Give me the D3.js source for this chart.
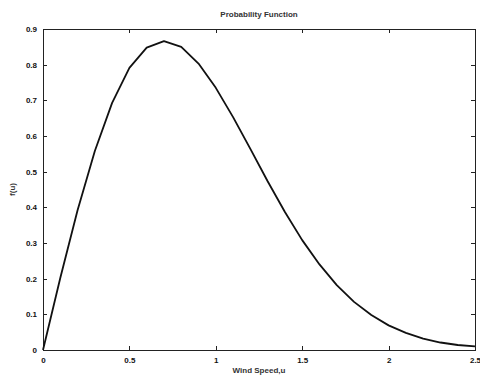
<html>
    <head>
        <title> Probability Function </title>
        <script src="https://d3js.org/d3.v7.min.js"></script>
        <style type="text/css">
            body { margin: 0; background: #fff; }
            .axis path,
            .axis line {
                fill: none;
                stroke: #222;
                shape-rendering: crispEdges;
            }
            .axis text {
                font-family: "Liberation Sans", Arial, sans-serif;
                font-size: 8px;
                font-weight: bold;
                fill: #111;
            }
            .lbl {
                font-family: "Liberation Sans", Arial, sans-serif;
                font-size: 8px;
                font-weight: bold;
                fill: #333;
            }
        </style>
    </head>
    <body>
        <script type="text/javascript">
            // wind speed samples and f(u)
            var speed = [0, 0.1, 0.2, 0.3, 0.4, 0.5, 0.6, 0.7, 0.8, 0.9, 1.0, 1.1, 1.2,
                         1.3, 1.4, 1.5, 1.6, 1.7, 1.8, 1.9, 2.0, 2.1, 2.2, 2.3, 2.4, 2.5];
            var prob = [0, 0.202, 0.392, 0.558, 0.693, 0.791, 0.848, 0.866, 0.850, 0.803,
                        0.735, 0.653, 0.564, 0.473, 0.387, 0.308, 0.240, 0.182, 0.135,
                        0.098, 0.069, 0.048, 0.032, 0.021, 0.014, 0.010];
            var xticks = [0, 0.5, 1, 1.5, 2, 2.5];
            var yticks = [0, 0.1, 0.2, 0.3, 0.4, 0.5, 0.6, 0.7, 0.8, 0.9];

            var w = 480, h = 378;
            // note: "top" is taken by window.top, so plot edges get a prefix
            var pLeft = 43, pRight = 475, pTop = 29, pBottom = 350;

            var data = speed.map(function (d, i) { return {u: d, f: prob[i]}; });

            var xscale = d3.scaleLinear()
                .domain([0, 2.5])
                .range([pLeft, pRight]);
            var yscale = d3.scaleLinear()
                .domain([0, 0.9])
                .range([pBottom, pTop]);

            var svg = d3.select('body')
                .append('svg')
                .attr('width', w)
                .attr('height', h);

            // frame
            svg.append('rect')
                .attr('x', pLeft)
                .attr('y', pTop)
                .attr('width', pRight - pLeft)
                .attr('height', pBottom - pTop)
                .attr('fill', 'none')
                .attr('stroke', '#222')
                .attr('shape-rendering', 'crispEdges');

            // ticks point inward like matlab
            var xAxis = d3.axisBottom(xscale)
                .tickValues(xticks)
                .tickSize(-4)
                .tickPadding(7)
                .tickFormat(function (d) { return d; });
            svg.append('g')
                .attr('class', 'axis')
                .attr('transform', 'translate(0,' + pBottom + ')')
                .call(xAxis);
            svg.append('g')
                .attr('class', 'axis')
                .attr('transform', 'translate(0,' + pTop + ')')
                .call(d3.axisTop(xscale).tickValues(xticks).tickSize(-4).tickFormat(''));

            var yAxis = d3.axisLeft(yscale)
                .tickValues(yticks)
                .tickSize(-4)
                .tickPadding(6)
                .tickFormat(function (d) { return d; });
            svg.append('g')
                .attr('class', 'axis')
                .attr('transform', 'translate(' + pLeft + ',0)')
                .call(yAxis);
            svg.append('g')
                .attr('class', 'axis')
                .attr('transform', 'translate(' + pRight + ',0)')
                .call(d3.axisRight(yscale).tickValues(yticks).tickSize(-4).tickFormat(''));

            svg.selectAll('.axis .domain').remove();

            var line = d3.line()
                .x(function (d) { return xscale(d.u); })
                .y(function (d) { return yscale(d.f); });

            svg.append('path')
                .datum(data)
                .attr('fill', 'none')
                .attr('stroke', '#111')
                .attr('stroke-width', 1.8)
                .attr('stroke-linejoin', 'round')
                .attr('d', line);

            svg.append('text')
                .attr('class', 'lbl')
                .attr('x', (pLeft + pRight) / 2)
                .attr('y', 17)
                .style('text-anchor', 'middle')
                .text('Probability Function');

            svg.append('text')
                .attr('class', 'lbl')
                .attr('x', (pLeft + pRight) / 2)
                .attr('y', 373)
                .style('text-anchor', 'middle')
                .text('Wind Speed,u');

            svg.append('text')
                .attr('class', 'lbl')
                .attr('transform', 'translate(15,' + ((pTop + pBottom) / 2) + ') rotate(-90)')
                .style('text-anchor', 'middle')
                .text('f(u)');
        </script>
    </body>
</html>
